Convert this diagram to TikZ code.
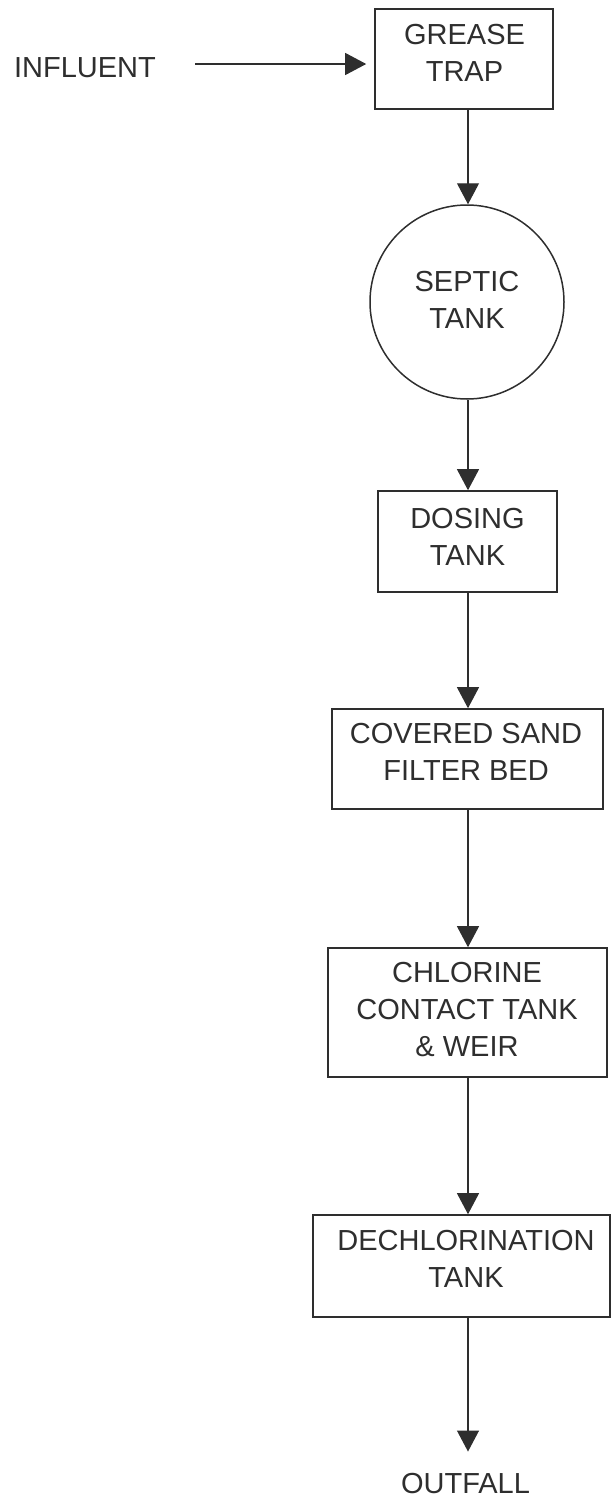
\documentclass[tikz,border=0pt]{standalone}
\usepackage{fontspec}
\setmainfont{Liberation Sans}
\usetikzlibrary{arrows.meta}
\definecolor{ink}{HTML}{2E2E2E}
\begin{document}
\begin{tikzpicture}[x=1pt,y=-1pt,
  box/.style={draw=ink,line width=1.6pt,rectangle,inner sep=0pt},
  tank/.style={draw=ink,line width=1.5pt,circle,inner sep=0pt,minimum size=194pt},
  lbl/.style={text=ink,font=\fontsize{29}{37}\selectfont,align=center,inner sep=0pt},
  flow/.style={draw=ink,line width=1.1pt,-{Triangle[length=21pt,width=22pt]}}]
\useasboundingbox (0,0) rectangle (611,1499);
% shapes
\node[box,minimum width=178pt,minimum height=100pt] (gt) at (464,59) {};
\node[tank] (st) at (467,302) {};
\node[box,minimum width=179pt,minimum height=101pt] (dt) at (467.5,541.5) {};
\node[box,minimum width=271pt,minimum height=100pt] (sf) at (467.5,759) {};
\node[box,minimum width=279pt,minimum height=129pt] (cc) at (467.5,1012.5) {};
\node[box,minimum width=297pt,minimum height=102pt] (dc) at (461.5,1266) {};
% labels
\node[lbl] (inf) at (85,68) {INFLUENT};
\node[lbl] (gtl) at (464.5,53) {GREASE\\TRAP};
\node[lbl] (stl) at (467,299.5) {SEPTIC\\TANK};
\node[lbl] (dtl) at (467.5,536.5) {DOSING\\TANK};
\node[lbl] (sfl) at (466,751.5) {COVERED SAND\\FILTER BED};
\node[lbl] (ccl) at (467,1010) {CHLORINE\\CONTACT TANK\\\& WEIR};
\node[lbl] (dcl) at (466,1258.5) {DECHLORINATION\\TANK};
\node[lbl] (out) at (465.5,1483) {OUTFALL};
% connectors
\coordinate (axis) at (468,0);
\coordinate (infstart) at (195,64);
\draw[flow,shorten >=8pt] (infstart) -- (gt.west |- infstart);
\draw[flow] (gt.south -| axis) -- (st.north -| axis);
\draw[flow] (st.south -| axis) -- (dt.north -| axis);
\draw[flow] (dt.south -| axis) -- (sf.north -| axis);
\draw[flow] (sf.south -| axis) -- (cc.north -| axis);
\draw[flow] (cc.south -| axis) -- (dc.north -| axis);
\draw[flow,shorten >=21pt] (dc.south -| axis) -- (out.north -| axis);
\end{tikzpicture}
\end{document}
